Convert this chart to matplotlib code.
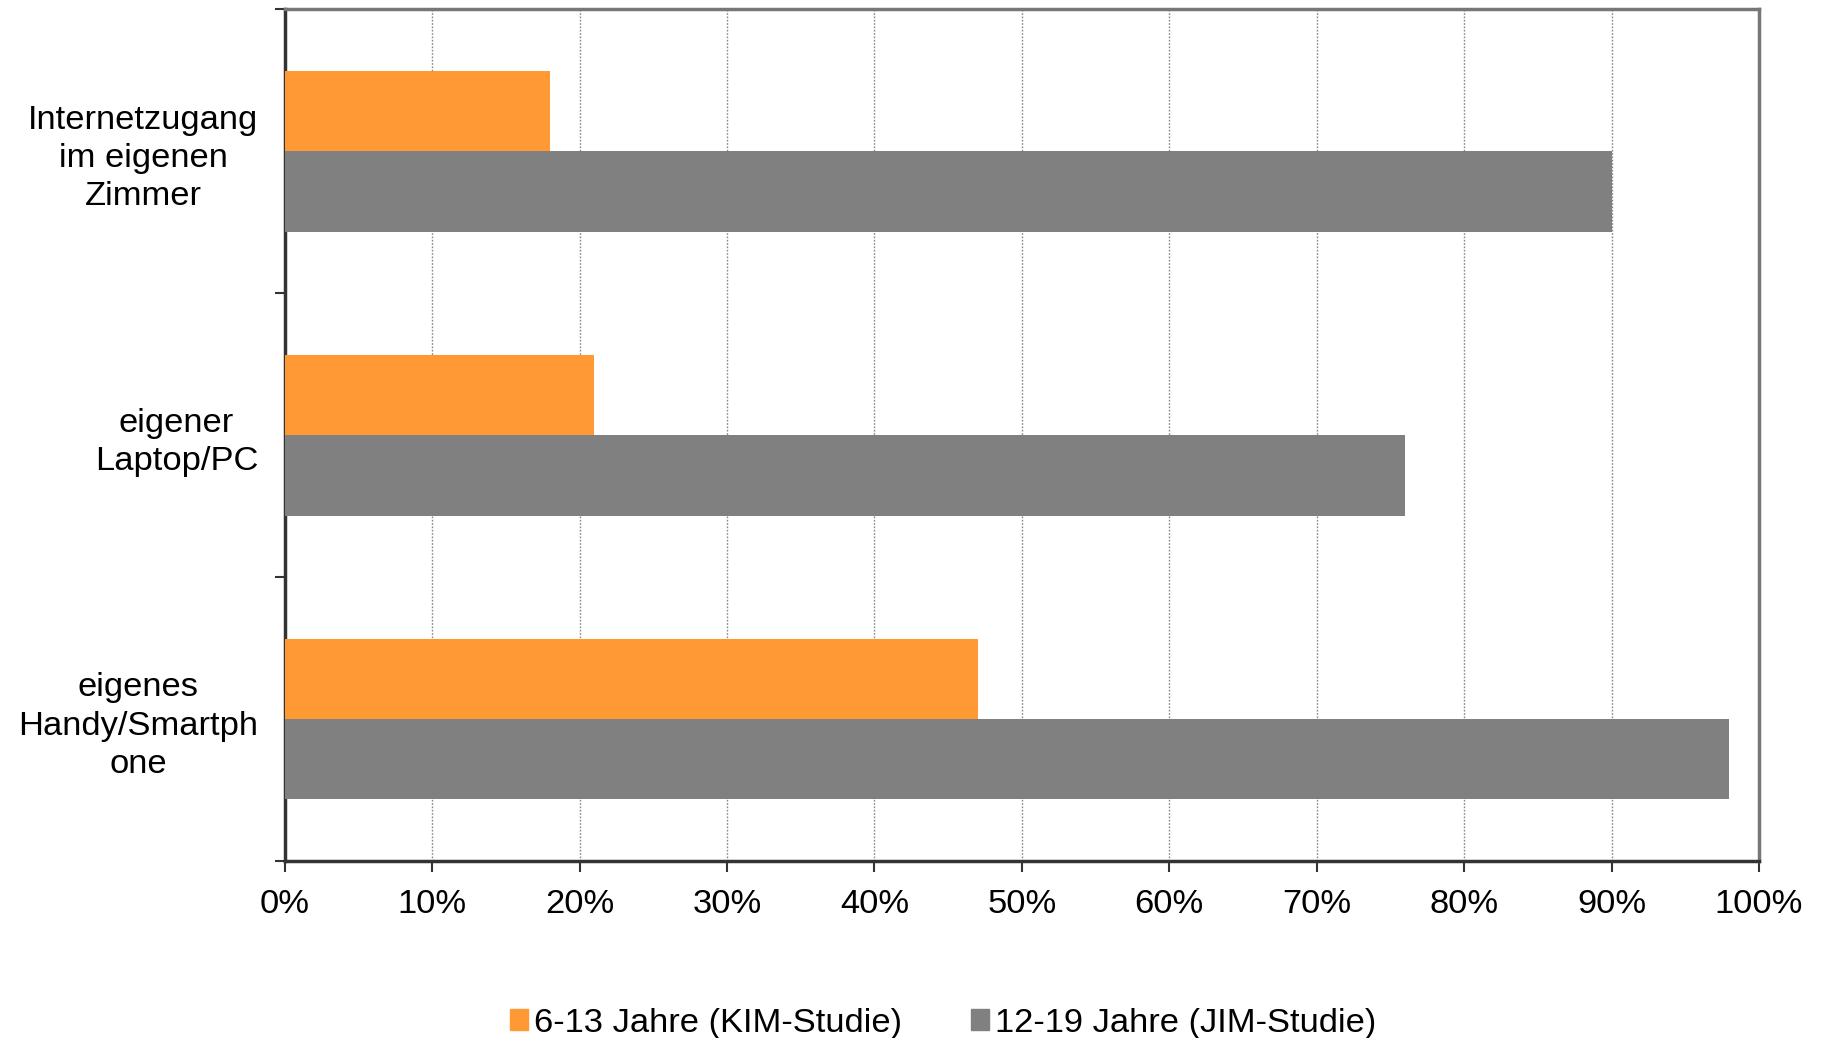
import matplotlib
matplotlib.use("Agg")
import matplotlib.pyplot as plt
import numpy as np
from matplotlib.patches import Patch

categories = ["Internetzugang\nim eigenen\nZimmer", "eigener\nLaptop/PC", "eigenes\nHandy/Smartph\none"]
kim = [18, 21, 47]
jim = [90, 76, 98]
series_names = ["6-13 Jahre (KIM-Studie)", "12-19 Jahre (JIM-Studie)"]
xticks = [0, 10, 20, 30, 40, 50, 60, 70, 80, 90, 100]

plt.rcParams['font.family'] = ['Liberation Sans', 'DejaVu Sans']
FS = 24.8

fig = plt.figure(figsize=(18.25, 10.38), dpi=100)
ax = fig.add_axes([0.156, 0.1705, 0.9638 - 0.156, 0.991 - 0.1705])

orange = "#FF9933"
grey = "#808080"
h = 0.283
y = np.arange(len(categories))
ax.barh(y - h / 2, kim, height=h, color=orange, zorder=3)
ax.barh(y + h / 2, jim, height=h, color=grey, zorder=3)

ax.set_xlim(0, 100)
ax.set_ylim(2.5, -0.5)
ax.set_xticks(xticks)
ax.set_xticklabels([f"{t}%" for t in xticks], fontsize=FS)
ax.set_yticks(y)
ax.set_yticklabels(categories, fontsize=FS, multialignment='center', linespacing=1.3)
ax.set_yticks([-0.5, 0.5, 1.5, 2.5], minor=True)
ax.tick_params(axis='y', which='major', length=0, pad=19)
ax.tick_params(axis='y', which='minor', length=7, width=1.5, color='#333333', direction='out')
ax.tick_params(axis='x', which='major', length=8, width=1.5, color='#333333', direction='out', pad=12)

ax.xaxis.grid(True, linestyle=(0, (1.2, 1.2)), color='#888888', linewidth=1.0, zorder=0)
ax.set_axisbelow(True)

for s in ['left', 'bottom']:
    ax.spines[s].set_color('#333333')
    ax.spines[s].set_linewidth(2.5)
for s in ['top', 'right']:
    ax.spines[s].set_color('#777777')
    ax.spines[s].set_linewidth(2.5)

handles = [Patch(color=orange), Patch(color=grey)]
fig.legend(handles, series_names, loc='center', bbox_to_anchor=(0.517, 0.014),
           ncol=2, frameon=False, fontsize=FS, handlelength=0.5, handleheight=0.55,
           handletextpad=0.2, columnspacing=2.0, borderaxespad=0)

fig.savefig("out.png", dpi=100)
